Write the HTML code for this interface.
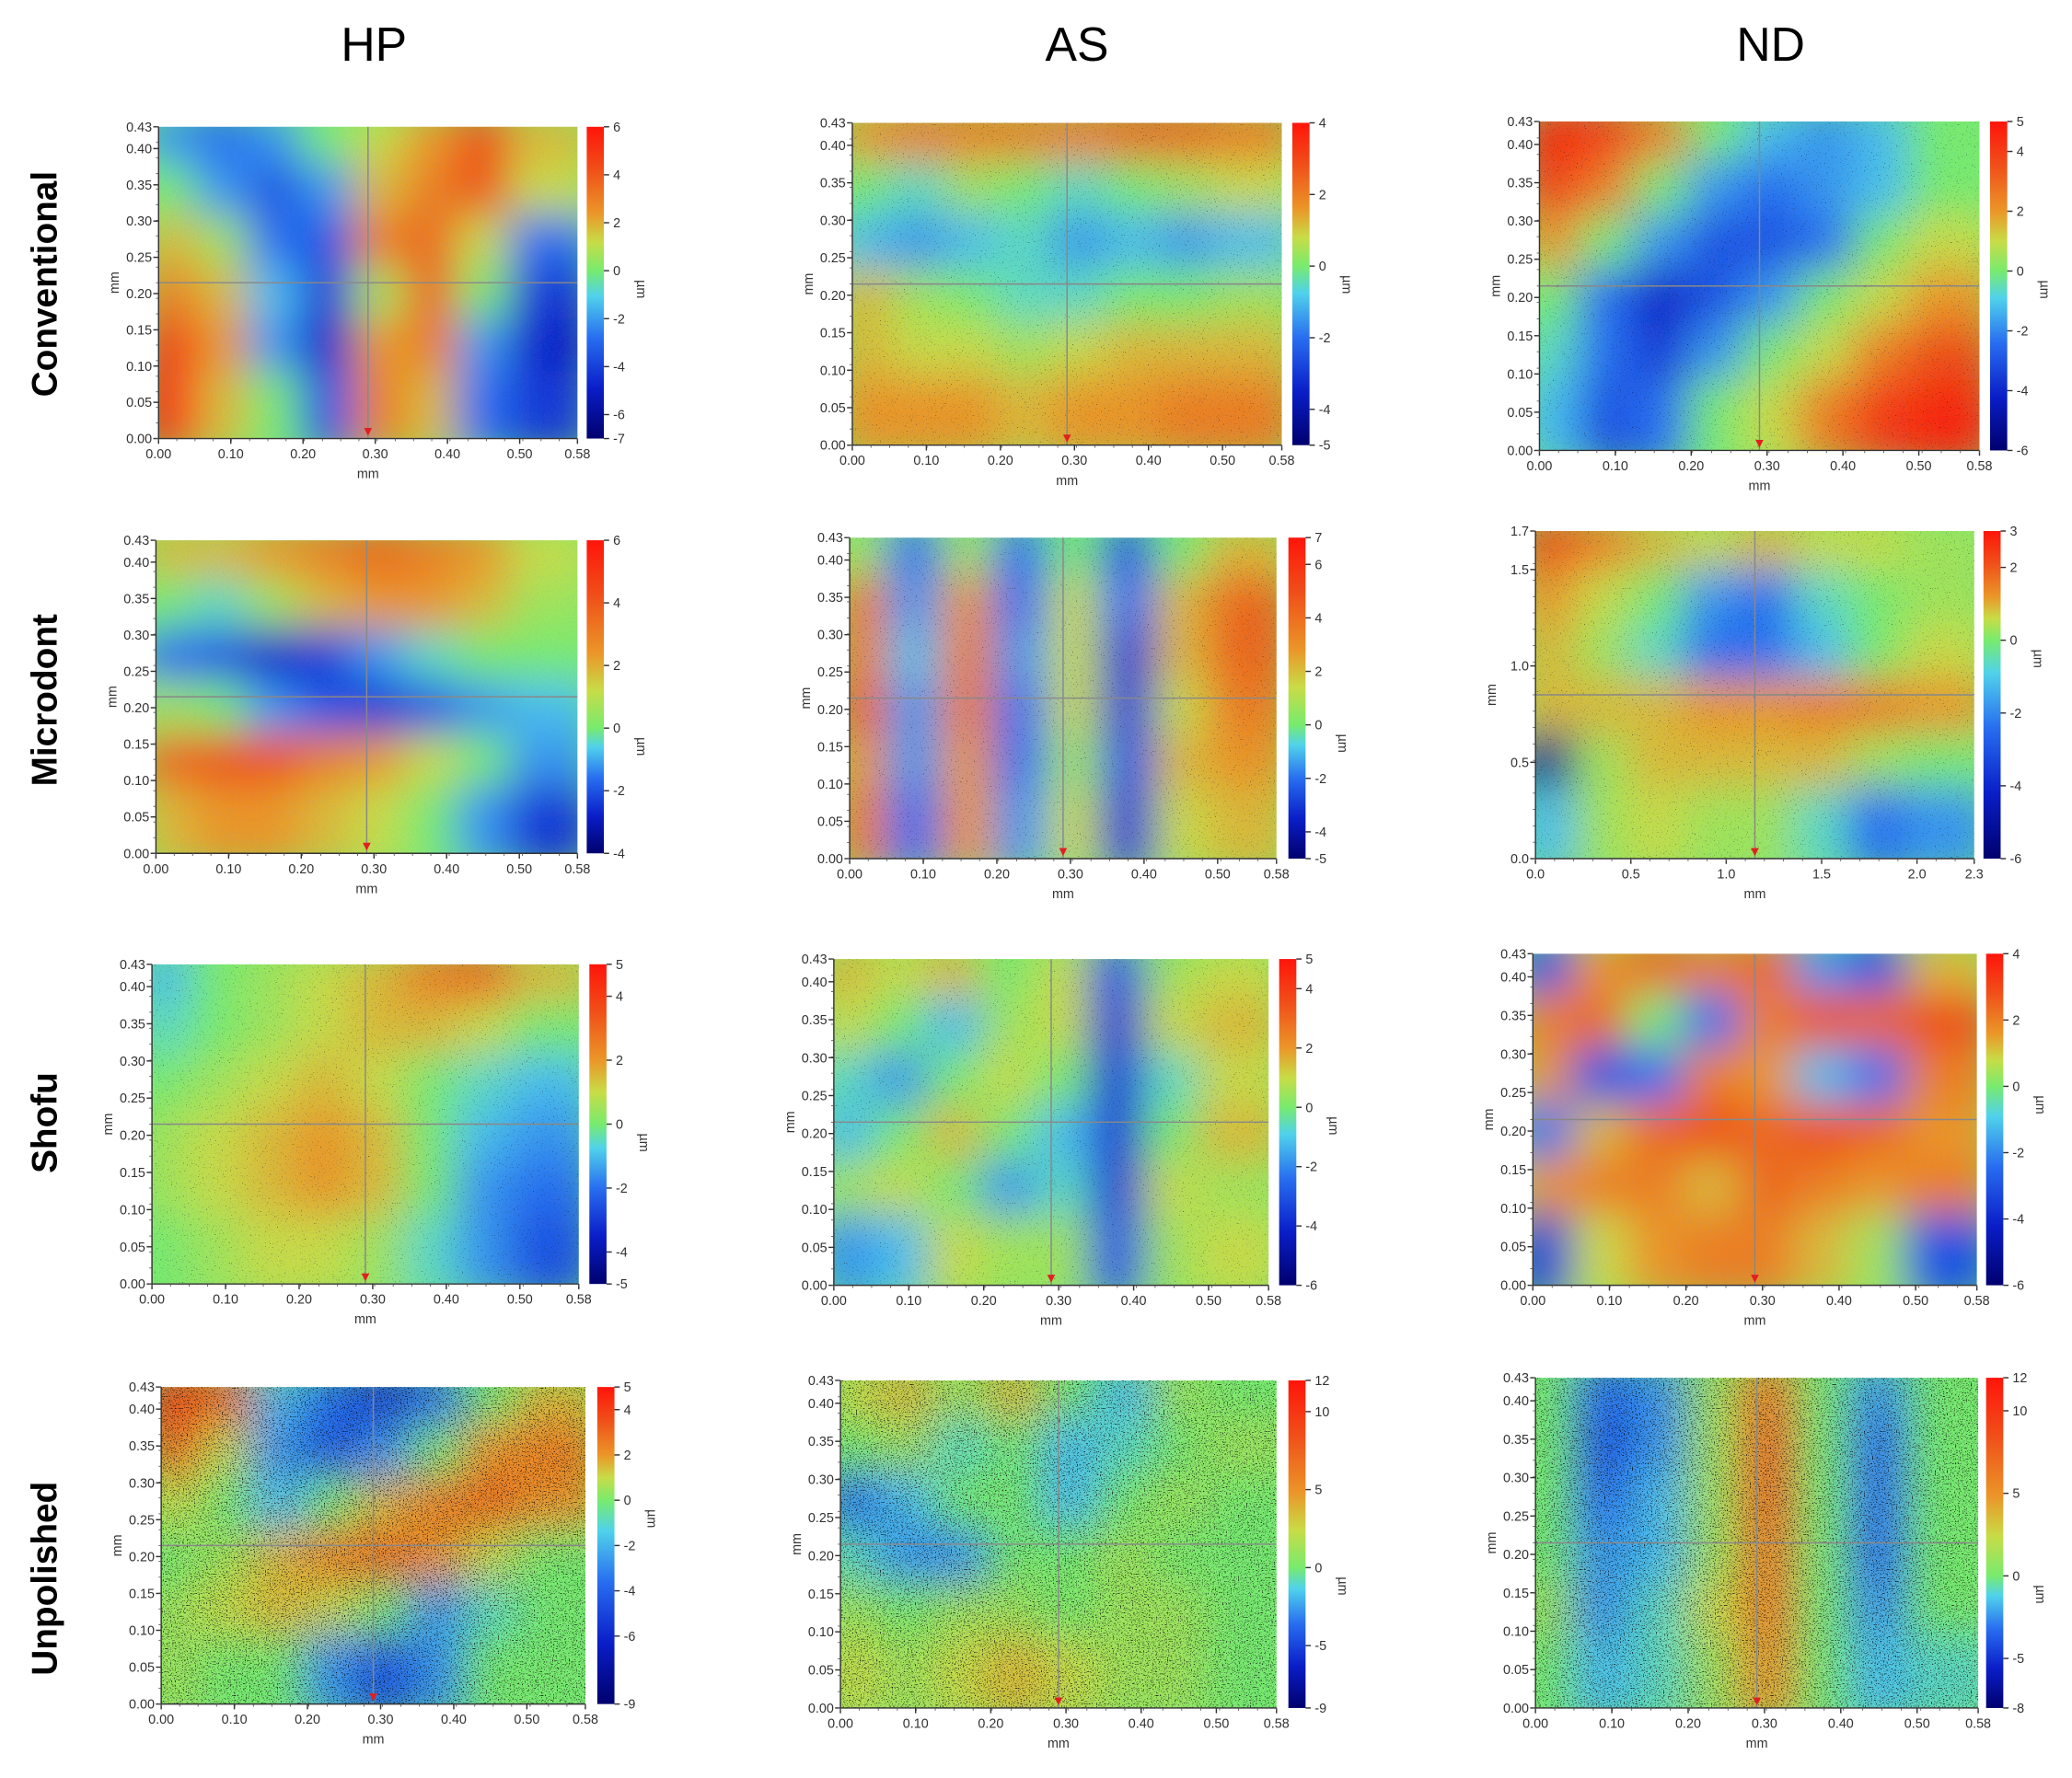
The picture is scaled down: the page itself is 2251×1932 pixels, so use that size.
<!DOCTYPE html>
<html><head><meta charset="utf-8">
<style>
html,body{margin:0;padding:0;background:#fff;}
svg{display:block;}
text{font-family:"Liberation Sans",Arial,sans-serif;}
</style></head>
<body>
<svg id="fig" width="2251" height="1932" viewBox="0 0 1568 1346" preserveAspectRatio="none" xmlns="http://www.w3.org/2000/svg">
<defs>
<filter id="blur" x="-5%" y="-5%" width="110%" height="110%"><feGaussianBlur stdDeviation="16"/></filter>
<filter id="noise" x="0" y="0" width="100%" height="100%">
<feTurbulence type="fractalNoise" baseFrequency="0.9" numOctaves="1" seed="3"/>
<feColorMatrix type="matrix" values="0 0 0 0 0.1  0 0 0 0 0.3  0 0 0 0 0.9  -2.2 0 0 0 1.1"/>
</filter>
<filter id="speck" x="0" y="0" width="100%" height="100%">
<feTurbulence type="fractalNoise" baseFrequency="1.1" numOctaves="1" seed="7"/>
<feColorMatrix type="matrix" values="0 0 0 0 0  0 0 0 0 0  0 0 0 0 0  10 0 0 0 -6.6"/>
</filter>
<filter id="speckHeavy" x="0" y="0" width="100%" height="100%">
<feTurbulence type="fractalNoise" baseFrequency="1.1" numOctaves="1" seed="11"/>
<feColorMatrix type="matrix" values="0 0 0 0 0  0 0 0 0 0  0 0 0 0 0  8 0 0 0 -4.6"/>
</filter>
</defs>
</svg>
<script>
// ---- data arrays (normalised height, -1 = deepest, +1 = highest), rows top→bottom ----
const hpConv=[[-0.3,-0.4,-0.3,0,0.2,0.4,0.7,0.3],[0,-0.3,-0.5,-0.3,0.3,0.5,0.7,0.2],[0.3,0.1,-0.4,-0.5,0.5,0.6,0.2,-0.4],[0.5,0.3,-0.2,-0.6,0.1,0.6,0,-0.6],[0.8,0.4,-0.3,-0.7,0.4,0.5,-0.3,-0.7],[0.9,0.3,0,-0.5,0.5,0.3,-0.4,-0.6]];
const asConv=[[0.4,0.5,0.5,0.5,0.5,0.6,0.6,0.5],[0,-0.1,0.1,0,-0.1,0,0.1,0.2],[-0.2,-0.3,-0.2,-0.1,-0.3,-0.2,-0.3,-0.2],[0.3,0.1,0,-0.1,-0.1,0,0,0.1],[0.3,0.2,0.2,0.1,0.2,0.3,0.3,0.3],[0.4,0.4,0.4,0.3,0.4,0.4,0.5,0.5]];
const ndConv=[[0.9,0.8,0.5,0,-0.2,-0.3,-0.2,0],[0.8,0.5,0,-0.3,-0.4,-0.3,-0.2,0],[0.4,0,-0.3,-0.5,-0.5,-0.4,0,0.2],[0,-0.4,-0.7,-0.5,-0.3,0,0.2,0.4],[-0.1,-0.4,-0.6,-0.3,0,0.2,0.5,0.7],[-0.2,-0.5,-0.4,0,0.2,0.5,0.8,0.9]];
const hpMicro=[[0.3,0.3,0.4,0.5,0.6,0.5,0.4,0.2],[0,-0.1,0.1,0.3,0.4,0.4,0.3,0.1],[-0.4,-0.5,-0.7,-0.6,-0.3,-0.1,0,0],[0.1,0,-0.3,-0.5,-0.6,-0.5,-0.3,-0.2],[0.6,0.7,0.7,0.5,0.4,0.2,0,-0.3],[0.3,0.4,0.4,0.3,0.2,0,-0.3,-0.6]];
const asMicro=[[0.1,-0.4,0.1,-0.4,0,-0.5,0,0.3],[0.5,-0.3,0.4,-0.4,0.2,-0.4,0.3,0.6],[0.5,-0.2,0.5,-0.3,0.2,-0.6,0.3,0.6],[0.6,-0.3,0.5,-0.4,0.2,-0.6,0.2,0.5],[0.4,-0.3,0.4,-0.4,0.1,-0.5,0.3,0.4],[0.5,-0.4,0.4,-0.3,0.2,-0.6,0.2,0.3]];
const ndMicro=[[0.7,0.5,0.3,0.2,0.3,0.2,0.2,0.1],[0.4,0.2,0,-0.3,-0.4,-0.1,0,0.1],[0.3,0.1,-0.1,-0.4,-0.4,-0.2,0,0.2],[0.3,0.3,0.3,0.4,0.4,0.5,0.5,0.4],[-0.9,0.1,0.3,0.3,0.3,0.3,0.1,0],[-0.2,0.1,0.2,0.1,0.1,-0.1,-0.4,-0.3]];
const hpShofu=[[-0.2,0,0.1,0.2,0.3,0.5,0.6,0.3],[-0.1,0,0.1,0.2,0.3,0.3,0.2,0],[0,0.1,0.2,0.3,0.2,0,-0.1,-0.2],[0.1,0.2,0.3,0.4,0.3,0,-0.2,-0.3],[0.1,0.2,0.3,0.4,0.3,0,-0.3,-0.4],[0,0.1,0.2,0.2,0.1,-0.1,-0.3,-0.5]];
const asShofu=[[0.3,0.2,0.3,0,0.2,-0.5,0.1,0.2],[0.2,0,-0.2,0.1,0.2,-0.6,0.2,0.3],[-0.1,-0.3,0,0.2,0,-0.6,-0.1,0.2],[-0.2,0,0.3,0,-0.2,-0.6,0,0.3],[0.1,0.2,0,-0.3,-0.1,-0.6,0.2,0.1],[-0.3,-0.2,0.2,0.1,0.1,-0.5,0.1,0.2]];
const ndShofu=[[-0.5,0.4,0.6,0.5,0.6,-0.3,-0.5,0.3],[0.5,0.6,0,-0.4,0.5,0.7,0.6,0.7],[0.4,-0.5,-0.4,0.5,0.4,-0.2,-0.4,0.5],[-0.4,0.3,0.6,0.7,0.6,0.7,0.6,0.4],[0.4,0.5,0.5,0.3,0.6,0.5,0.4,0.5],[-0.6,0.2,0.4,0.5,0.5,0.3,0.1,-0.5]];
const hpUnpol=[[0.8,0.6,-0.2,-0.4,-0.6,-0.4,0,0.3],[0.6,0.2,-0.3,-0.5,-0.3,0,0.4,0.5],[0.2,0,-0.2,0,0.3,0.5,0.6,0.4],[0,0.1,0.3,0.5,0.6,0.4,0.2,0],[0.1,0.2,0.3,0.2,0,-0.3,-0.1,0],[0.1,0,0,-0.3,-0.5,-0.3,0,0]];
const asUnpol=[[0.2,0.3,0.1,0.3,0,-0.2,0.1,0],[0,0.1,-0.1,0,-0.2,-0.1,0,0.1],[-0.4,-0.2,0,0,-0.2,0,0.1,0],[-0.1,-0.3,-0.3,0,0,0.1,0,0],[0.1,0,0.1,0.1,0,0.1,0.1,0],[0.2,0.1,0.2,0.3,0.2,0.1,0.1,0]];
const ndUnpol=[[0,-0.4,-0.3,0.1,0.5,0,-0.3,0],[0,-0.5,-0.3,0.1,0.6,0,-0.4,0],[0,-0.4,-0.2,0.1,0.6,0,-0.4,0],[0,-0.3,-0.2,0.1,0.5,0,-0.4,0],[0.1,-0.3,-0.1,0.2,0.5,0,-0.3,0],[0,-0.2,-0.1,0.1,0.4,0,-0.2,-0.1]];

const colHeads=["HP","AS","ND"];
const rowHeads=["Conventional","Microdont","Shofu","Unpolished"];
const yTicksStd=["0.00","0.05","0.10","0.15","0.20","0.25","0.30","0.35","0.40","0.43"];
const yTicksStdVal=[0,0.05,0.1,0.15,0.2,0.25,0.3,0.35,0.4,0.43];
const xTicksStd=["0.00","0.10","0.20","0.30","0.40","0.50","0.58"];
const xTicksStdVal=[0,0.1,0.2,0.3,0.4,0.5,0.58];
const yTicksBig=["0.0","0.5","1.0","1.5","1.7"];
const yTicksBigVal=[0,0.5,1.0,1.5,1.7];
const xTicksBig=["0.0","0.5","1.0","1.5","2.0","2.3"];
const xTicksBigVal=[0,0.5,1.0,1.5,2.0,2.3];
const cbConvHP=[6,4,2,0,-2,-4,-6,-7], cbConvAS=[4,2,0,-2,-4,-5], cbConvND=[5,4,2,0,-2,-4,-6];
const cbMicroHP=[6,4,2,0,-2,-4], cbMicroAS=[7,6,4,2,0,-2,-4,-5], cbMicroND=[3,2,0,-2,-4,-6];
const cbShofuHP=[5,4,2,0,-2,-4,-5], cbShofuAS=[5,4,2,0,-2,-4,-6], cbShofuND=[4,2,0,-2,-4,-6];
const cbUnpolHP=[5,4,2,0,-2,-4,-6,-9], cbUnpolAS=[12,10,5,0,-5,-9], cbUnpolND=[12,10,5,0,-5,-8];

// layout (not data)
const panels=[
 {n:"conventional-hp",g:hpConv,cb:cbConvHP,x0:120,x1:437,y0:96,y1:332,c:444,big:false,sp:0},
 {n:"conventional-as",g:asConv,cb:cbConvAS,x0:645,x1:970,y0:93,y1:337,c:978,big:false,sp:1},
 {n:"conventional-nd",g:ndConv,cb:cbConvND,x0:1165,x1:1498,y0:92,y1:341,c:1506,big:false,sp:1},
 {n:"microdont-hp",g:hpMicro,cb:cbMicroHP,x0:118,x1:437,y0:409,y1:646,c:444,big:false,sp:0},
 {n:"microdont-as",g:asMicro,cb:cbMicroAS,x0:643,x1:966,y0:407,y1:650,c:975,big:false,sp:1},
 {n:"microdont-nd",g:ndMicro,cb:cbMicroND,x0:1162,x1:1494,y0:402,y1:650,c:1501,big:true,sp:1},
 {n:"shofu-hp",g:hpShofu,cb:cbShofuHP,x0:115,x1:438,y0:730,y1:972,c:446,big:false,sp:1},
 {n:"shofu-as",g:asShofu,cb:cbShofuAS,x0:631,x1:960,y0:726,y1:973,c:968,big:false,sp:1},
 {n:"shofu-nd",g:ndShofu,cb:cbShofuND,x0:1160,x1:1496,y0:722,y1:973,c:1503,big:false,sp:0},
 {n:"unpolished-hp",g:hpUnpol,cb:cbUnpolHP,x0:122,x1:443,y0:1050,y1:1290,c:452,big:false,sp:2},
 {n:"unpolished-as",g:asUnpol,cb:cbUnpolAS,x0:636,x1:966,y0:1045,y1:1293,c:975,big:false,sp:2},
 {n:"unpolished-nd",g:ndUnpol,cb:cbUnpolND,x0:1162,x1:1497,y0:1043,y1:1293,c:1503,big:false,sp:2}
];
const colX=[283,815,1340], rowY=[215,530,850,1195];

const NS="http://www.w3.org/2000/svg";
const svg=document.getElementById('fig');
function mk(tag,attrs,parent){const e=document.createElementNS(NS,tag);for(const k in attrs)e.setAttribute(k,attrs[k]);(parent||svg).appendChild(e);return e;}
const stops=[[-1,[0,0,110]],[-0.7,[10,30,200]],[-0.4,[40,110,240]],[-0.15,[80,210,235]],[0,[120,235,110]],[0.2,[200,220,70]],[0.4,[235,150,40]],[0.7,[240,80,25]],[1,[255,20,10]]];
function color(v){v=Math.max(-1,Math.min(1,v));for(let i=1;i<stops.length;i++){if(v<=stops[i][0]){const a=stops[i-1],b=stops[i],t=(v-a[0])/(b[0]-a[0]);const c=a[1].map((q,j)=>Math.round(q+(b[1][j]-q)*t));return `rgb(${c[0]},${c[1]},${c[2]})`;}}return 'rgb(255,20,10)';}

colHeads.forEach((t,i)=>{const e=mk('text',{x:colX[i],y:46,'font-size':36,'text-anchor':'middle',fill:'#000'});e.textContent=t;

});
rowHeads.forEach((t,i)=>{const e=mk('text',{x:0,y:0,'font-size':27,'font-weight':'bold','text-anchor':'middle',fill:'#000',transform:`translate(43,${rowY[i]}) rotate(-90)`});e.textContent=t;

});

panels.forEach((p,pi)=>{
 const g=mk('g',{});
 
 
 const w=p.x1-p.x0,h=p.y1-p.y0;
 const cid='clip'+pi;
 const cp=mk('clipPath',{id:cid},g);mk('rect',{x:p.x0,y:p.y0,width:w,height:h},cp);
 const hm=mk('g',{'clip-path':`url(#${cid})`},g);
 
 
 mk('rect',{x:p.x0,y:p.y0,width:w,height:h,fill:color(0)},hm);
 const rows=p.g.length,cols=p.g[0].length,cw=w/cols,ch=h/rows;
 const bl=mk('g',{filter:'url(#blur)'},hm);
 p.g.forEach((row,r)=>row.forEach((v,c)=>{
  const cell=mk('rect',{x:p.x0+c*cw-cw*0.3,y:p.y0+r*ch-ch*0.3,width:cw*1.6,height:ch*1.6,fill:color(v)},bl);
  
  
 }));
 mk('rect',{x:p.x0,y:p.y0,width:w,height:h,filter:'url(#noise)',opacity:0.22},hm);
 if(p.sp>0) mk('rect',{x:p.x0,y:p.y0,width:w,height:h,filter:p.sp==2?'url(#speckHeavy)':'url(#speck)',opacity:p.sp==2?0.8:0.5},hm);
 // crosshair
 const mx=(p.x0+p.x1)/2,my=p.y0+h*0.5;
 mk('line',{x1:mx,y1:p.y0,x2:mx,y2:p.y1,stroke:'#888','stroke-width':1},hm);
 mk('line',{x1:p.x0,y1:my,x2:p.x1,y2:my,stroke:'#888','stroke-width':1},hm);
 mk('path',{d:`M${mx-3},${p.y1-8}L${mx+3},${p.y1-8}L${mx},${p.y1-2}Z`,fill:'#e02020'},g);
 // axes
 const yl=p.big?yTicksBig:yTicksStd, yv=p.big?yTicksBigVal:yTicksStdVal;
 const xl=p.big?xTicksBig:xTicksStd, xv=p.big?xTicksBigVal:xTicksStdVal;
 const ymax=yv[yv.length-1], xmax=xv[xv.length-1];
 const sy=v=>p.y1-v/ymax*h, sx=v=>p.x0+v/xmax*w;
 mk('line',{x1:p.x0,y1:p.y0,x2:p.x0,y2:p.y1,stroke:'#333','stroke-width':1},g);
 mk('line',{x1:p.x0,y1:p.y1,x2:p.x1,y2:p.y1,stroke:'#333','stroke-width':1},g);
 yl.forEach((t,i)=>{const y=sy(yv[i]);mk('line',{x1:p.x0-4,y1:y,x2:p.x0,y2:y,stroke:'#333'},g);
  const e=mk('text',{x:p.x0-5,y:y+3.5,'font-size':10,'text-anchor':'end',fill:'#333'},g);e.textContent=t;});
 for(let k=0;k<=20;k++){const y=p.y1-k*h/20;mk('line',{x1:p.x0-2,y1:y,x2:p.x0,y2:y,stroke:'#555','stroke-width':0.6},g);}
 xl.forEach((t,i)=>{const x=sx(xv[i]);mk('line',{x1:x,y1:p.y1,x2:x,y2:p.y1+4,stroke:'#333'},g);
  const e=mk('text',{x:x,y:p.y1+15,'font-size':10,'text-anchor':'middle',fill:'#333'},g);e.textContent=t;});
 for(let k=0;k<=23;k++){const x=p.x0+k*w/23;mk('line',{x1:x,y1:p.y1,x2:x,y2:p.y1+2,stroke:'#555','stroke-width':0.6},g);}
 const xt=mk('text',{x:(p.x0+p.x1)/2,y:p.y1+30,'font-size':10,'text-anchor':'middle',fill:'#333'},g);xt.textContent='mm';
 
 
 const yt=mk('text',{x:0,y:0,'font-size':10,'text-anchor':'middle',fill:'#333',transform:`translate(${p.x0-30},${(p.y0+p.y1)/2}) rotate(-90)`},g);yt.textContent='mm';
 
 
 // colorbar
 const cbMax=p.cb[0],cbMin=p.cb[p.cb.length-1];
 const cy=v=>p.y1-(v-cbMin)/(cbMax-cbMin)*h;
 const gid='grad'+pi;const lg=mk('linearGradient',{id:gid,x1:0,y1:1,x2:0,y2:0},g);
 const z=(0-cbMin)/(cbMax-cbMin);
 stops.forEach(s=>{const off=s[0]<0?z*(s[0]+1):z+(1-z)*s[0];mk('stop',{offset:off,'stop-color':color(s[0])},lg);});
 const cb=mk('rect',{x:p.c,y:p.y0,width:13,height:h,fill:`url(#${gid})`},g);
 
 
 p.cb.forEach(v=>{const y=cy(v);mk('line',{x1:p.c+13,y1:y,x2:p.c+17,y2:y,stroke:'#333'},g);
  const e=mk('text',{x:p.c+20,y:y+3.5,'font-size':10,fill:'#333'},g);e.textContent=String(v);});
 const ut=mk('text',{x:0,y:0,'font-size':10,'text-anchor':'middle',fill:'#333',transform:`translate(${p.c+38},${cy(0)+14}) rotate(90)`},g);ut.textContent='µm';
 
 
});
</script>
</body></html>
